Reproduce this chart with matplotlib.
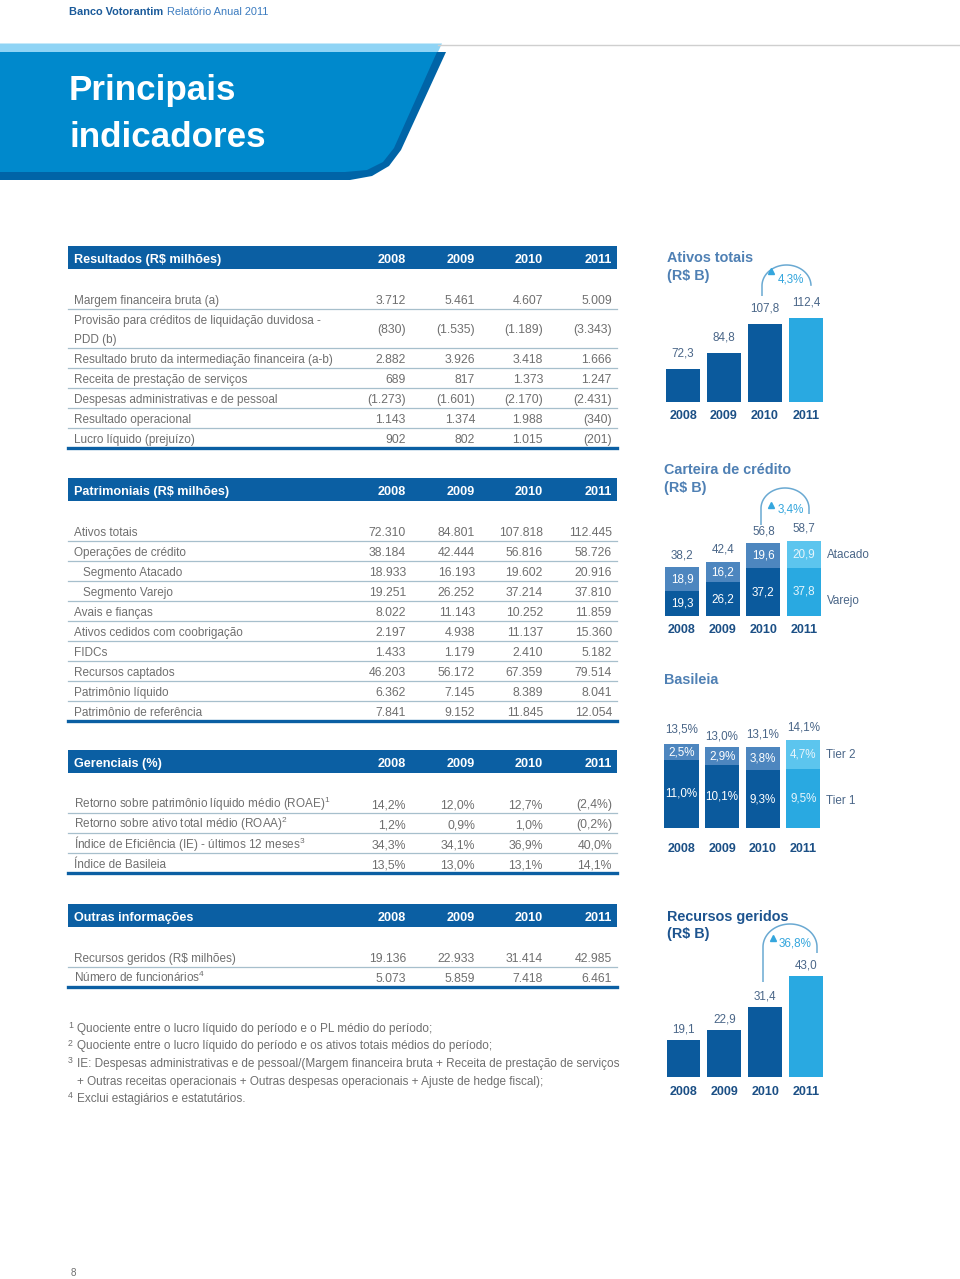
import matplotlib
matplotlib.use('Agg')
import matplotlib.pyplot as plt
from matplotlib import font_manager
from matplotlib.patches import Polygon, Rectangle
import numpy as np

names = {f.name for f in font_manager.fontManager.ttflist}
NARROW = 'Liberation Sans Narrow' if 'Liberation Sans Narrow' in names else 'Liberation Sans'
SC = 1.0 if NARROW == 'Liberation Sans Narrow' else 0.84
BODY = 10.5 * (1.0 if NARROW == 'Liberation Sans Narrow' else 0.805)
plt.rcParams['font.family'] = [NARROW, 'DejaVu Sans']
plt.rcParams['mathtext.fontset'] = 'custom'
plt.rcParams['mathtext.rm'] = NARROW

# ---------------- data ----------------
years = ['2008', '2009', '2010', '2011']

res_title = 'Resultados (R$ milhões)'
res_labels = ['Margem financeira bruta (a)',
              'Provisão para créditos de liquidação duvidosa -\nPDD (b)',
              'Resultado bruto da intermediação financeira (a-b)',
              'Receita de prestação de serviços',
              'Despesas administrativas e de pessoal',
              'Resultado operacional',
              'Lucro líquido (prejuízo)']
res_values = [['3.712', '5.461', '4.607', '5.009'],
              ['(830)', '(1.535)', '(1.189)', '(3.343)'],
              ['2.882', '3.926', '3.418', '1.666'],
              ['689', '817', '1.373', '1.247'],
              ['(1.273)', '(1.601)', '(2.170)', '(2.431)'],
              ['1.143', '1.374', '1.988', '(340)'],
              ['902', '802', '1.015', '(201)']]

pat_title = 'Patrimoniais (R$ milhões)'
pat_labels = ['Ativos totais', 'Operações de crédito', 'Segmento Atacado', 'Segmento Varejo',
              'Avais e fianças', 'Ativos cedidos com coobrigação', 'FIDCs', 'Recursos captados',
              'Patrimônio líquido', 'Patrimônio de referência']
pat_indent = [0, 0, 1, 1, 0, 0, 0, 0, 0, 0]
pat_values = [['72.310', '84.801', '107.818', '112.445'],
              ['38.184', '42.444', '56.816', '58.726'],
              ['18.933', '16.193', '19.602', '20.916'],
              ['19.251', '26.252', '37.214', '37.810'],
              ['8.022', '11.143', '10.252', '11.859'],
              ['2.197', '4.938', '11.137', '15.360'],
              ['1.433', '1.179', '2.410', '5.182'],
              ['46.203', '56.172', '67.359', '79.514'],
              ['6.362', '7.145', '8.389', '8.041'],
              ['7.841', '9.152', '11.845', '12.054']]

ger_title = 'Gerenciais (%)'
ger_labels = ['Retorno sobre patrimônio líquido médio (ROAE)',
              'Retorno sobre ativo total médio (ROAA)',
              'Índice de Eficiência (IE) - últimos 12 meses',
              'Índice de Basileia']
ger_sup = ['1', '2', '3', '']
ger_values = [['14,2%', '12,0%', '12,7%', '(2,4%)'],
              ['1,2%', '0,9%', '1,0%', '(0,2%)'],
              ['34,3%', '34,1%', '36,9%', '40,0%'],
              ['13,5%', '13,0%', '13,1%', '14,1%']]

out_title = 'Outras informações'
out_labels = ['Recursos geridos (R$ milhões)', 'Número de funcionários']
out_sup = ['', '4']
out_values = [['19.136', '22.933', '31.414', '42.985'],
              ['5.073', '5.859', '7.418', '6.461']]

footnote_nums = ['1', '2', '3', '', '4']
footnotes = ['Quociente entre o lucro líquido do período e o PL médio do período;',
             'Quociente entre o lucro líquido do período e os ativos totais médios do período;',
             'IE: Despesas administrativas e de pessoal/(Margem financeira bruta + Receita de prestação de serviços',
             '+ Outras receitas operacionais + Outras despesas operacionais + Ajuste de hedge fiscal);',
             'Exclui estagiários e estatutários.']

ativos = [72.3, 84.8, 107.8, 112.4]
ativos_growth = '4,3%'
cart_varejo = [19.3, 26.2, 37.2, 37.8]
cart_atacado = [18.9, 16.2, 19.6, 20.9]
cart_total = [38.2, 42.4, 56.8, 58.7]
cart_growth = '3,4%'
bas_tier1 = [11.0, 10.1, 9.3, 9.5]
bas_tier2 = [2.5, 2.9, 3.8, 4.7]
bas_total = [13.5, 13.0, 13.1, 14.1]
recursos = [19.1, 22.9, 31.4, 43.0]
recursos_growth = '36,8%'

# ---------------- style ----------------
W, H = 960, 1279
DARK = '#0b5a9d'
LIGHT = '#29a9e1'
MED = '#4d86bf'
LIGHT_TOP = '#5cc5ee'
SLATE = '#4a6688'
YEAR_C = '#1b4f85'
TITLE_C = '#4f80b4'
TITLE_DARK = '#1d548f'
BAND = '#0b5fa3'
GRAY = '#6f6f6f'
SEP = '#a7bfcc'
ARC_C = '#6aa9d2'
GROW_C = '#35a6dd'

fig = plt.figure(figsize=(W / 100, H / 100), dpi=100)
ov = fig.add_axes([0, 0, 1, 1])
ov.set_xlim(0, W)
ov.set_ylim(H, 0)
ov.axis('off')


def fs(x):
    return x * SC


# ---------------- header ----------------
ov.text(69, 12, 'Banco Votorantim', fontsize=fs(9.4), fontweight='bold', color='#1a5a9a', va='center')
ov.text(167, 12, 'Relatório Anual 2011', fontsize=fs(9.4), color='#3c7cc0', va='center')
ov.plot([438, 960], [44.5, 44.5], color='#cfcfcf', lw=1)
ov.add_patch(Polygon([(0, 43.5), (442, 43.5), (438, 52), (0, 52)], closed=True, color='#8fd4f5', lw=0))
ov.add_patch(Polygon([(0, 52), (446, 52), (401, 150), (389, 166), (372, 176), (350, 180), (0, 180)],
                     closed=True, color='#0064a7', lw=0))
ov.add_patch(Polygon([(0, 52), (437, 52), (394, 148), (383, 162), (367, 170), (345, 172), (0, 172)],
                     closed=True, color='#0089cc', lw=0))
ov.text(69, 100, 'Principais', fontsize=fs(30), fontweight='bold', color='white', va='baseline')
ov.text(69, 147, 'indicadores', fontsize=fs(30), fontweight='bold', color='white', va='baseline')

# ---------------- tables ----------------
COLS = [406, 475, 543, 612]
TX0, TX1 = 68, 617
BL = 5.0  # baseline offset below row centre


def draw_table(top, title, labels, values, heights=None, indent=None, sups=None):
    n = len(labels)
    heights = heights or [20] * n
    indent = indent or [0] * n
    sups = sups or [''] * n
    ov.add_patch(Rectangle((TX0, top), TX1 - TX0, 23, color=BAND, lw=0))
    ov.text(74, top + 12 + BL, title, fontsize=fs(10.8), fontweight='bold', color='white', va='baseline')
    for c, yr in zip(COLS, years):
        ov.text(c, top + 12 + BL, yr, fontsize=fs(10.8), fontweight='bold', color='white',
                va='baseline', ha='right')
    y = top + 43
    for i in range(n):
        h = heights[i]
        cy = y + h / 2
        lines = labels[i].split('\n')
        if len(lines) == 1:
            lab = labels[i] + (r'$^{%s}$' % sups[i] if sups[i] else '')
            ov.text(74 + 9 * indent[i], cy + BL, lab, fontsize=BODY, color=GRAY, va='baseline')
        else:
            for k, ln in enumerate(lines):
                ov.text(74 + 9 * indent[i], cy + BL + (k - 0.5) * 19, ln, fontsize=BODY,
                        color=GRAY, va='baseline')
        for c, v in zip(COLS, values[i]):
            ov.text(c, cy + BL, v, fontsize=fs(10.5), color=GRAY, va='baseline', ha='right')
        y += h
        if i < n - 1:
            ov.plot([TX0, TX1], [y, y], color=SEP, lw=0.9)
        else:
            ov.plot([TX0, TX1], [y, y], color=BAND, lw=2.4)


draw_table(246, res_title, res_labels, res_values, heights=[20, 39, 20, 20, 20, 20, 20])
draw_table(478, pat_title, pat_labels, pat_values, indent=pat_indent)
draw_table(750, ger_title, ger_labels, ger_values, sups=ger_sup)
draw_table(904, out_title, out_labels, out_values, sups=out_sup)

# footnotes
fy = [1027, 1044.5, 1062, 1079.5, 1097]
for num, txt, y in zip(footnote_nums, footnotes, fy):
    if num:
        ov.text(68, y + 1, num, fontsize=fs(7.5), color=GRAY, va='baseline')
    ov.text(77, y + BL, txt, fontsize=BODY, color=GRAY, va='baseline')

ov.text(71, 1273, '8', fontsize=fs(8.5), color=GRAY, va='center')


# ---------------- small bar charts ----------------
def chart_ax(center0, spacing, base_px, ppu, ymin, height_px=200):
    left = center0 - spacing / 2
    ax = fig.add_axes([left / W, (H - base_px) / H, 4 * spacing / W, height_px / H])
    ax.set_xlim(-0.5, 3.5)
    ax.set_ylim(ymin, ymin + height_px / ppu)
    ax.axis('off')
    ax.patch.set_alpha(0)
    return ax


def fmt(v, pct=False):
    s = ('%.1f' % v).replace('.', ',')
    return s + '%' if pct else s


def years_row(ax, ymin, off):
    for i, yr in enumerate(years):
        ax.annotate(yr, xy=(i, ymin), xytext=(0, -off), textcoords='offset pixels',
                    ha='center', va='center', fontsize=fs(10.7), fontweight='bold', color=YEAR_C)


def growth(xl, xr, ybl, ybr, ytop, tri, txt, txy):
    rx = (xr - xl) / 2
    cx = (xl + xr) / 2
    ry = rx * 0.85
    cy = ytop + ry
    t = np.linspace(0, np.pi, 60)
    ax_ = cx - rx * np.cos(t)
    ay_ = cy - ry * np.sin(t)
    xs = np.concatenate([[xl], ax_, [xr]])
    ys = np.concatenate([[ybl], ay_, [max(ybr, cy)]])
    ov.plot(xs, ys, color=ARC_C, lw=1.1, solid_capstyle='butt')
    ov.plot([tri[0]], [tri[1]], marker='^', color=GROW_C, markersize=fs(5.5), lw=0)
    ov.text(txy[0], txy[1], txt, fontsize=fs(10), color=GROW_C, va='center')


xs = np.arange(4)
colors_main = [DARK, DARK, DARK, LIGHT]
colors_top = [MED, MED, MED, LIGHT_TOP]

# Ativos totais
ov.text(667, 258, 'Ativos totais', fontsize=fs(12.3), fontweight='bold', color=TITLE_C, va='center')
ov.text(667, 276, '(R$ B)', fontsize=fs(12.3), fontweight='bold', color=TITLE_C, va='center')
ax1 = chart_ax(683, 41, 402, 1.27, 46.5, 160)
ax1.bar(xs, ativos, width=0.83, color=colors_main)
for i, v in enumerate(ativos):
    ax1.annotate(fmt(v), xy=(i, v), xytext=(0, 16), textcoords='offset pixels', ha='center',
                 va='center', fontsize=fs(10), color=SLATE)
years_row(ax1, 46.5, 14)
growth(762, 811, 296, 284, 265, (771, 271), ativos_growth, (778, 279))

# Carteira de crédito
ov.text(664, 470, 'Carteira de crédito', fontsize=fs(12.3), fontweight='bold', color=TITLE_C, va='center')
ov.text(664, 488, '(R$ B)', fontsize=fs(12.3), fontweight='bold', color=TITLE_C, va='center')
ax2 = chart_ax(682, 40.7, 616, 1.28, 0, 120)
ax2.bar(xs, cart_varejo, width=0.84, color=colors_main)
ax2.bar(xs, cart_atacado, width=0.84, bottom=cart_varejo, color=colors_top)
for i in range(4):
    tc = 'white' if i < 3 else '#e6f5fc'
    ax2.text(i, cart_varejo[i] / 2, fmt(cart_varejo[i]), ha='center', va='center', fontsize=fs(10), color=tc)
    ax2.text(i, cart_varejo[i] + cart_atacado[i] / 2, fmt(cart_atacado[i]), ha='center', va='center',
             fontsize=fs(10), color=tc)
    ax2.annotate(fmt(cart_total[i]), xy=(i, cart_total[i]), xytext=(0, 12), textcoords='offset pixels',
                 ha='center', va='center', fontsize=fs(10), color=SLATE)
years_row(ax2, 0, 14)
ov.text(827, 555, 'Atacado', fontsize=fs(10), color=SLATE, va='center')
ov.text(827, 601, 'Varejo', fontsize=fs(10), color=SLATE, va='center')
growth(761, 809, 525, 514, 488, (771, 505), cart_growth, (778, 509))

# Basileia
ov.text(664, 680, 'Basileia', fontsize=fs(12.3), fontweight='bold', color=TITLE_C, va='center')
ax3 = chart_ax(681.5, 40.6, 828, 6.2, 0, 120)
ax3.bar(xs, bas_tier1, width=0.84, color=colors_main)
ax3.bar(xs, bas_tier2, width=0.84, bottom=bas_tier1, color=colors_top)
tot_off = [15, 11, 12, 13]
for i in range(4):
    tc = 'white' if i < 3 else '#e6f5fc'
    ax3.text(i, bas_tier1[i] / 2, fmt(bas_tier1[i], True), ha='center', va='center', fontsize=fs(10), color=tc)
    ax3.text(i, bas_tier1[i] + bas_tier2[i] / 2, fmt(bas_tier2[i], True), ha='center', va='center',
             fontsize=fs(10), color=tc)
    ax3.annotate(fmt(bas_total[i], True), xy=(i, bas_total[i]), xytext=(0, tot_off[i]),
                 textcoords='offset pixels', ha='center', va='center', fontsize=fs(10), color=SLATE)
years_row(ax3, 0, 21)
ov.text(826, 755, 'Tier 2', fontsize=fs(10), color=SLATE, va='center')
ov.text(826, 801, 'Tier 1', fontsize=fs(10), color=SLATE, va='center')

# Recursos geridos
ov.text(667, 917, 'Recursos geridos', fontsize=fs(12.3), fontweight='bold', color=TITLE_DARK, va='center')
ov.text(667, 934, '(R$ B)', fontsize=fs(12.3), fontweight='bold', color=TITLE_DARK, va='center')
ax4 = chart_ax(683.5, 40.8, 1077, 2.68, 5.2, 130)
ax4.bar(xs, recursos, width=0.83, color=colors_main)
for i, v in enumerate(recursos):
    ax4.annotate(fmt(v), xy=(i, v), xytext=(0, 10), textcoords='offset pixels', ha='center',
                 va='center', fontsize=fs(10), color=SLATE)
years_row(ax4, 5.2, 15)
growth(763, 817, 982, 953, 924, (773, 938), recursos_growth, (779, 944))

fig.savefig('out.png', dpi=100)
